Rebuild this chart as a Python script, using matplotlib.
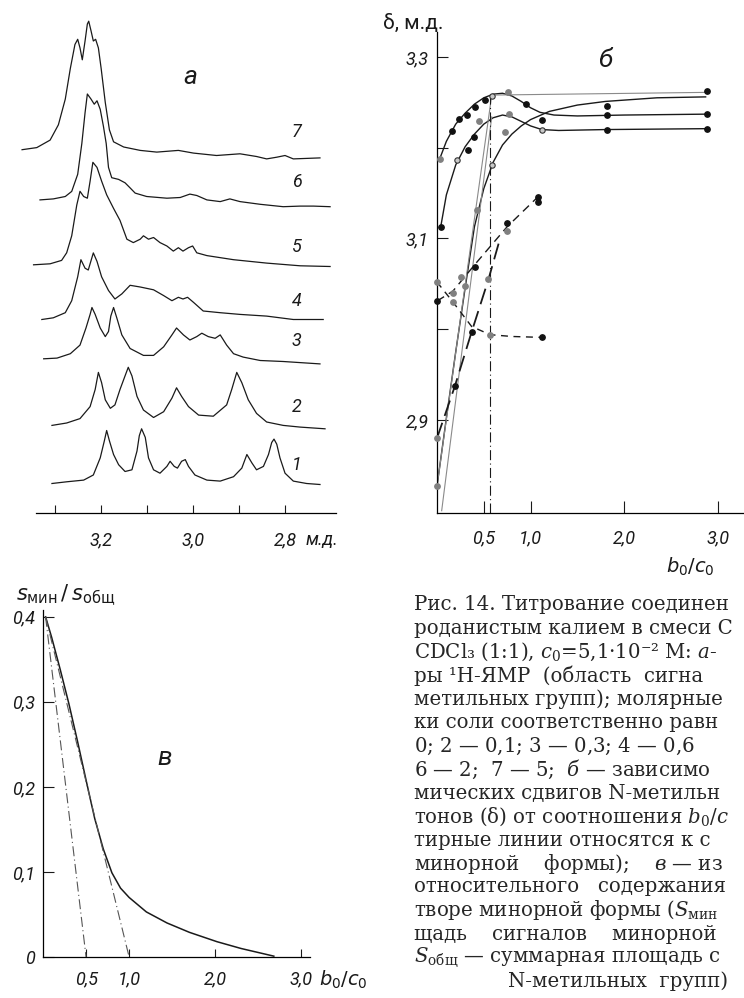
import matplotlib
matplotlib.use("Agg")
import matplotlib.pyplot as plt

W, H = 744, 998

# ---- а: спектры ПМР (м.д. / высота сигнала) ----
s1_ppm = [3.307, 3.275, 3.238, 3.217, 3.202, 3.193, 3.188, 3.182, 3.173, 3.162, 3.148, 3.133,
          3.122, 3.117, 3.112, 3.104, 3.097, 3.086, 3.072, 3.057, 3.050, 3.041, 3.034, 3.025,
          3.017, 3.010, 2.996, 2.970, 2.941, 2.912, 2.894, 2.883, 2.872, 2.862, 2.847, 2.836,
          2.829, 2.824, 2.818, 2.811, 2.800, 2.782, 2.753, 2.724]
s1_int = [0, 1.7, 3.4, 8.5, 25.6, 42.7, 53.0, 42.7, 29.0, 18.8, 12.0, 13.7,
          32.5, 47.8, 54.7, 46.1, 25.6, 13.7, 10.3, 17.1, 22.2, 17.1, 15.4, 22.2,
          23.9, 17.1, 8.5, 3.4, 2.4, 6.8, 15.4, 29.0, 20.5, 13.7, 17.1, 29.0,
          41.0, 44.4, 39.3, 25.6, 10.3, 2.4, 0, -1.0]

s2_ppm = [3.307, 3.275, 3.246, 3.224, 3.213, 3.206, 3.199, 3.191, 3.180, 3.170, 3.159, 3.148,
          3.141, 3.133, 3.122, 3.108, 3.086, 3.064, 3.046, 3.036, 3.025, 3.010, 2.988, 2.956,
          2.927, 2.916, 2.905, 2.894, 2.880, 2.862, 2.840, 2.804, 2.767, 2.713]
s2_int = [0, 2.4, 6.8, 18.8, 35.9, 53.0, 42.7, 25.6, 17.1, 20.5, 35.9, 49.5,
          58.1, 49.5, 29.0, 15.4, 7.9, 13.7, 27.3, 37.6, 29.0, 18.8, 10.3, 9.2,
          20.5, 35.9, 53.0, 42.7, 25.6, 12.0, 3.4, 0, -1.7, -3.4]

s3_ppm = [3.325, 3.296, 3.267, 3.246, 3.233, 3.224, 3.220, 3.213, 3.202, 3.191, 3.184, 3.179,
          3.173, 3.166, 3.155, 3.137, 3.108, 3.086, 3.064, 3.046, 3.036, 3.021, 3.007, 2.992,
          2.981, 2.967, 2.952, 2.941, 2.927, 2.912, 2.891, 2.854, 2.804, 2.724]
s3_int = [0, 0.7, 5.1, 13.7, 30.8, 44.4, 51.3, 44.4, 30.8, 22.2, 27.3, 42.7,
          51.3, 41.0, 23.9, 10.3, 3.4, 3.4, 12.0, 23.9, 30.8, 23.9, 18.8, 22.2,
          25.6, 22.2, 20.5, 23.9, 13.7, 5.1, 1.7, -1.7, -2.7, -5.1]

s4_ppm = [3.329, 3.304, 3.278, 3.264, 3.251, 3.244, 3.235, 3.228, 3.217, 3.209, 3.199, 3.184,
          3.170, 3.155, 3.137, 3.115, 3.086, 3.064, 3.046, 3.032, 3.022, 3.012, 2.999, 2.978,
          2.941, 2.898, 2.840, 2.782, 2.717]
s4_int = [0, 1.7, 6.8, 18.8, 42.7, 59.8, 51.3, 49.5, 66.6, 58.1, 42.7, 29.0,
          20.5, 25.6, 34.2, 32.5, 29.7, 23.9, 18.8, 22.2, 20.5, 22.2, 17.1, 8.5,
          6.8, 5.1, 3.4, 0, 0]

s5_ppm = [3.347, 3.311, 3.286, 3.275, 3.264, 3.253, 3.246, 3.238, 3.230, 3.224, 3.218, 3.209,
          3.199, 3.188, 3.173, 3.159, 3.144, 3.130, 3.115, 3.108, 3.097, 3.086, 3.072, 3.057,
          3.043, 3.032, 3.022, 3.010, 3.001, 2.992, 2.970, 2.912, 2.840, 2.767, 2.702]
s5_int = [0, 1.0, 4.4, 12.0, 29.0, 59.8, 73.5, 68.3, 66.6, 83.7, 102.5, 97.4,
          83.7, 70.0, 56.4, 44.4, 25.6, 22.2, 25.6, 29.0, 25.6, 27.3, 22.2, 18.8,
          13.7, 17.1, 13.7, 17.1, 18.8, 12.0, 9.2, 5.1, 1.7, -1.0, -1.7]

s6_ppm = [3.333, 3.304, 3.278, 3.264, 3.251, 3.242, 3.235, 3.230, 3.222, 3.215, 3.209, 3.202,
          3.195, 3.189, 3.184, 3.177, 3.162, 3.148, 3.137, 3.126, 3.101, 3.057, 3.028, 3.007,
          2.992, 2.970, 2.941, 2.920, 2.898, 2.854, 2.804, 2.767, 2.738, 2.702]
s6_int = [0, 1.0, 3.4, 8.5, 25.6, 56.4, 87.1, 105.9, 100.8, 95.7, 99.1, 90.6,
          73.5, 56.4, 32.5, 22.2, 20.5, 17.1, 12.0, 6.8, 3.4, 1.7, 2.4, 5.8,
          4.4, 0, -1.7, 1.0, -1.7, -4.4, -6.8, -6.2, -6.2, -6.8]

s7_ppm = [3.372, 3.340, 3.311, 3.293, 3.278, 3.267, 3.257, 3.251, 3.246, 3.241, 3.235, 3.230,
          3.227, 3.222, 3.217, 3.212, 3.206, 3.200, 3.191, 3.182, 3.173, 3.151, 3.115, 3.079,
          3.032, 2.999, 2.949, 2.898, 2.862, 2.840, 2.818, 2.800, 2.782, 2.724]
s7_int = [0, 2.1, 9.6, 24.9, 50.6, 81.3, 105.2, 110.4, 101.8, 89.9, 108.7, 125.7,
          128.5, 118.9, 108.7, 110.4, 101.8, 81.3, 47.2, 19.8, 7.9, 2.7, -0.7, -2.4,
          -0.7, -3.4, -5.8, -4.1, -6.8, -9.2, -7.5, -5.8, -9.2, -8.2]

spectra = [(s1_ppm, s1_int), (s2_ppm, s2_int), (s3_ppm, s3_int), (s4_ppm, s4_int),
           (s5_ppm, s5_int), (s6_ppm, s6_int), (s7_ppm, s7_int)]
spec_names = ['1', '2', '3', '4', '5', '6', '7']
spec_offsets = [29.5, 87.6, 154.2, 193.5, 248.2, 313.1, 363.3]
ppm_ticks = [3.3, 3.2, 3.1, 3.0, 2.9, 2.8]
ppm_labels = ['', '3,2', '', '3,0', '', '2,8']

# ---- б: химсдвиги (b0/c0, δ) ----
curveA_b = [0.03, 0.10, 0.20, 0.30, 0.40, 0.50, 0.60, 0.70, 0.80, 0.90, 1.00, 1.10, 1.25, 1.50, 2.00, 2.89]
curveA_d = [3.188, 3.207, 3.226, 3.238, 3.248, 3.255, 3.259, 3.260, 3.257, 3.251, 3.244, 3.239, 3.236, 3.235, 3.236, 3.237]
curveB_b = [0.04, 0.10, 0.20, 0.30, 0.40, 0.50, 0.60, 0.70, 0.80, 0.90, 1.00, 1.12, 1.30, 1.80, 2.89]
curveB_d = [3.113, 3.148, 3.181, 3.201, 3.215, 3.226, 3.233, 3.236, 3.234, 3.229, 3.224, 3.220, 3.219, 3.220, 3.221]
curveC_b = [0.0, 0.1, 0.2, 0.3, 0.4, 0.5, 0.6, 0.7, 0.8, 0.9, 1.0, 1.2, 1.5, 1.8, 2.35, 2.87]
curveC_d = [2.827, 2.902, 2.975, 3.045, 3.113, 3.155, 3.184, 3.203, 3.215, 3.224, 3.231, 3.240, 3.247, 3.251, 3.255, 3.256]
dash1_b = [0.0, 0.17, 0.41, 0.75, 1.08]
dash1_d = [3.031, 3.042, 3.072, 3.113, 3.146]
dash2_b = [0.0, 0.17, 0.37, 0.567, 0.80, 1.12]
dash2_d = [3.052, 3.030, 3.003, 2.994, 2.992, 2.991]
dash3_b = [0.0, 0.19, 0.37, 0.55, 0.66]
dash3_d = [2.880, 2.937, 2.997, 3.055, 3.095]
tang1_b = [0.0, 0.585, 2.89]
tang1_d = [2.827, 3.258, 3.261]
tang2_b = [0.05, 0.585]
tang2_d = [2.800, 3.234]
equiv_b = 0.567
equiv_top = 3.258

black_b = [0.16, 0.23, 0.32, 0.41, 0.51, 0.95, 1.12, 1.82, 2.89,
           0.04, 0.33, 0.39, 1.82, 2.89, 1.82, 2.89,
           0.0, 0.41, 0.75, 1.08, 1.08, 0.37, 1.12, 0.19]
black_d = [3.218, 3.232, 3.236, 3.245, 3.253, 3.248, 3.230, 3.236, 3.237,
           3.113, 3.197, 3.212, 3.220, 3.221, 3.246, 3.262,
           3.031, 3.069, 3.117, 3.146, 3.140, 2.997, 2.991, 2.937]
grey_b = [0.03, 0.76, 0.45, 0.77, 0.73, 0.43, 0.0, 0.17, 0.17, 0.26, 0.30, 0.567, 0.55, 0.0, 0.0, 0.75]
grey_d = [3.188, 3.261, 3.229, 3.237, 3.217, 3.131, 3.052, 3.040, 3.030, 3.058, 3.048, 2.994, 3.055, 2.880, 2.827, 3.108]
open_b = [0.585, 0.21, 0.585, 1.12]
open_d = [3.257, 3.187, 3.181, 3.219]

d_ticks = [2.9, 3.0, 3.1, 3.2, 3.3]
d_labels = ['2,9', '', '3,1', '', '3,3']
r_ticks = [0.5, 1.0, 2.0, 3.0]
r_labels = ['0,5', '1,0', '2,0', '3,0']

# ---- в: доля минорной формы ----
frac_b = [0.03, 0.10, 0.20, 0.30, 0.40, 0.50, 0.60, 0.70, 0.80, 0.90, 1.00, 1.20, 1.44, 1.70, 2.02, 2.30, 2.68]
frac_s = [0.400, 0.376, 0.338, 0.298, 0.254, 0.208, 0.163, 0.127, 0.099, 0.081, 0.070, 0.053, 0.040, 0.029, 0.018, 0.010, 0.001]
lim05_b = [0.03, 0.50]
lim10_b = [0.03, 1.00]
lim_s = [0.40, 0.0]
s_ticks = [0, 0.1, 0.2, 0.3, 0.4]
s_labels = ['0', '0,1', '0,2', '0,3', '0,4']

caption = [
    'Рис. 14. Титрование соединен',
    'роданистым калием в смеси C',
    r'CDCl₃ (1:1), $c_0$=5,1·10⁻² М: $\mathit{а}$-',
    'ры ¹H-ЯМР  (область  сигна',
    'метильных групп); молярные',
    'ки соли соответственно равн',
    r'0; $\mathit{2}$ — 0,1; $\mathit{3}$ — 0,3; $\mathit{4}$ — 0,6',
    r'$\mathit{6}$ — 2;  $\mathit{7}$ — 5;  $\mathit{б}$ — зависимо',
    'мических сдвигов N-метильн',
    r'тонов (δ) от соотношения $b_0/c$',
    'тирные линии относятся к с',
    r'минорной    формы);    $\mathit{в}$ — из',
    'относительного   содержания',
    r'творе минорной формы ($S_{\mathrm{мин}}$',
    'щадь    сигналов    минорной',
    r'$S_{\mathrm{общ}}$ — суммарная площадь с',
    'N-метильных  групп)',
]

plt.rcParams['font.family'] = ['Roboto', 'DejaVu Sans']
plt.rcParams['axes.linewidth'] = 0.9
INK = '#1a1a1a'
LBL = dict(fontstyle='italic', fontsize=13, color=INK)
PANEL = dict(fontstyle='italic', fontsize=19, color=INK)


def rect(x0, y0, x1, y1):
    return [x0 / W, 1 - y1 / H, (x1 - x0) / W, (y1 - y0) / H]


def ftext(x, y, s, **kw):
    fig.text(x / W, 1 - y / H, s, **kw)


def clean(ax):
    for side in ['top', 'right']:
        ax.spines[side].set_visible(False)
    ax.patch.set_alpha(0)


fig = plt.figure(figsize=(W / 100, H / 100), dpi=100)

# --- панель а ---
ax = fig.add_axes(rect(0, 0, 349.4, 513))
clean(ax)
ax.spines['left'].set_visible(False)
ax.spines['bottom'].set_bounds(2.689, 3.341)
for (ppm, val), off, name in zip(spectra, spec_offsets, spec_names):
    ax.plot(ppm, [v + off for v in val], color=INK, lw=0.9)
    ax.text(2.775, off + 18, name, ha='center', va='center', **LBL)
ax.set_xlim(3.42, 2.66)
ax.set_ylim(0, 513)
ax.set_yticks([])
ax.set_xticks(ppm_ticks, ppm_labels, **LBL)
ax.tick_params(axis='x', direction='in', length=6, width=0.8, pad=13, colors=INK)
ax.text(2.72, -27, 'м.д.', ha='center', va='center', **LBL)
ax.text(3.007, 436, 'а', ha='center', va='center', **PANEL)

# --- панель б ---
ax = fig.add_axes(rect(437, 32, 744, 513))
clean(ax)
ax.plot(curveA_b, curveA_d, color=INK, lw=1.0)
ax.plot(curveB_b, curveB_d, color=INK, lw=1.0)
ax.plot(curveC_b, curveC_d, color=INK, lw=1.0)
ax.plot(tang1_b, tang1_d, color='#8a8a8a', lw=0.8)
ax.plot(tang2_b, tang2_d, color='#8a8a8a', lw=0.8)
ax.plot(dash1_b, dash1_d, color=INK, lw=1.0, ls=(0, (6, 4)))
ax.plot(dash2_b, dash2_d, color=INK, lw=1.0, ls=(0, (5, 4)))
ax.plot(dash3_b, dash3_d, color=INK, lw=1.3, ls=(0, (9, 4)))
ax.plot([equiv_b, equiv_b], [2.7975, equiv_top], color=INK, lw=0.8, ls=(0, (9, 3, 1, 3)))
ax.scatter(black_b, black_d, s=15, color='#111111', zorder=3, clip_on=False)
ax.scatter(grey_b, grey_d, s=15, color='#808080', zorder=3, clip_on=False)
ax.scatter(open_b, open_d, s=15, facecolor='#c8c8c8', edgecolor='#333333', lw=0.8, zorder=3)
ax.set_xlim(0, 3.28)
ax.set_ylim(2.7975, 3.3275)
ax.set_yticks(d_ticks, d_labels, **LBL)
ax.set_xticks(r_ticks, r_labels, **LBL)
ax.tick_params(axis='y', direction='in', length=8, width=0.8, pad=6, colors=INK)
ax.tick_params(axis='x', direction='in', length=9, width=0.8, pad=12, colors=INK)
ftext(413, 23, 'δ, м.д.', ha='center', va='center', fontsize=15, color=INK)
ftext(605, 60, 'б', ha='center', va='center', **PANEL)
ftext(690, 567, r'$b_0/c_0$', ha='center', va='center', fontsize=14, color=INK)

# --- панель в ---
ax = fig.add_axes(rect(43, 610, 310, 957))
clean(ax)
ax.plot(frac_b, frac_s, color=INK, lw=1.1)
ax.plot(lim05_b, lim_s, color='#555555', lw=0.8, ls=(0, (9, 3, 1, 3)))
ax.plot(lim10_b, lim_s, color='#555555', lw=0.8, ls=(0, (9, 3, 1, 3)))
ax.set_xlim(0, 3.10)
ax.set_ylim(0, 0.408)
ax.set_yticks(s_ticks, s_labels, **LBL)
ax.set_xticks(r_ticks, r_labels, **LBL)
ax.tick_params(axis='y', direction='in', length=8, width=0.8, pad=6, colors=INK)
ax.tick_params(axis='x', direction='in', length=6, width=0.8, pad=10, colors=INK)
ftext(66, 595, r'$s_{\mathrm{мин}}\,/\,s_{\mathrm{общ}}$', ha='center', va='center', fontsize=15,
      color=INK, math_fontfamily='dejavusans')
ftext(343, 980, r'$b_0/c_0$', ha='center', va='center', fontsize=14, color=INK)
ftext(165, 758, 'в', ha='center', va='center', **PANEL)

# --- подпись ---
for i, line in enumerate(caption):
    x = 508 if i == len(caption) - 1 else 414
    ftext(x, 605 + i * 23.5, line, ha='left', va='center', fontsize=14.2,
          family='DejaVu Serif', math_fontfamily='dejavuserif', color='#262626')

fig.savefig('out.png', dpi=100, facecolor='white')
